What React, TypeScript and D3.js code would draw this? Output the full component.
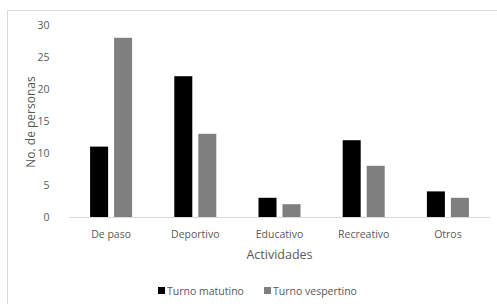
import React from "react";
import * as d3 from "d3";

const categories = ["De paso", "Deportivo", "Educativo", "Recreativo", "Otros"];
const seriesNames = ["Turno matutino", "Turno vespertino"];
const matutino = [11, 22, 3, 12, 4];
const vespertino = [28, 13, 2, 8, 3];
const yTicks = [0, 5, 10, 15, 20, 25, 30];
const colors = ["#000000", "#7f7f7f"];

const W = 497;
const H = 304;
const FONT = "'Open Sans', 'Noto Sans', sans-serif";
const TEXT = "#595959";

export default function App() {
  const left = 69, right = 490, top = 25, bottom = 217;
  const x = d3.scaleBand<string>().domain(categories).range([left, right]).paddingInner(0).paddingOuter(0);
  const y = d3.scaleLinear().domain([0, 30]).range([bottom, top]);
  const barW = 18, gap = 6;
  const data = [matutino, vespertino];

  return (
    <svg width={W} height={H} style={{ position: "absolute", left: 0, top: 0 }}>
      <rect x={0} y={0} width={W} height={H} fill="#fff" />
      <rect x={7.5} y={10.5} width={W + 10} height={H + 10} fill="none" stroke="#d9d9d9" />
      {data.map((vals, si) =>
        vals.map((v, i) => {
          const cx = x(categories[i])! + x.bandwidth() / 2;
          const bx = si === 0 ? cx - gap / 2 - barW : cx + gap / 2;
          return (
            <rect key={`${si}-${i}`} x={bx} y={y(v)} width={barW} height={bottom - y(v)} fill={colors[si]} />
          );
        })
      )}
      <line x1={left} x2={right} y1={bottom + 0.5} y2={bottom + 0.5} stroke="#d9d9d9" />
      {yTicks.map((t) => (
        <text key={t} x={49.5} y={y(t)} dy="0.35em" textAnchor="end" fontFamily={FONT} fontSize={10.5} fill={TEXT}>
          {t}
        </text>
      ))}
      {categories.map((c) => (
        <text key={c} x={x(c)! + x.bandwidth() / 2} y={234} dy="0.35em" textAnchor="middle" fontFamily={FONT} fontSize={10.5} fill={TEXT}>
          {c}
        </text>
      ))}
      <text x={(left + right) / 2} y={255} dy="0.35em" textAnchor="middle" fontFamily={FONT} fontSize={12.5} fill={TEXT}>
        Actividades
      </text>
      <text transform={`translate(31,122) rotate(-90)`} dy="0.35em" textAnchor="middle" fontFamily={FONT} fontSize={12} fill={TEXT}>
        No. de personas
      </text>
      {seriesNames.map((s, i) => {
        const lx = i === 0 ? 158 : 264;
        return (
          <g key={s}>
            <rect x={lx} y={287} width={7} height={7} fill={colors[i]} />
            <text x={lx + 9} y={291} dy="0.35em" fontFamily={FONT} fontSize={10.5} fill={TEXT}>
              {s}
            </text>
          </g>
        );
      })}
    </svg>
  );
}
